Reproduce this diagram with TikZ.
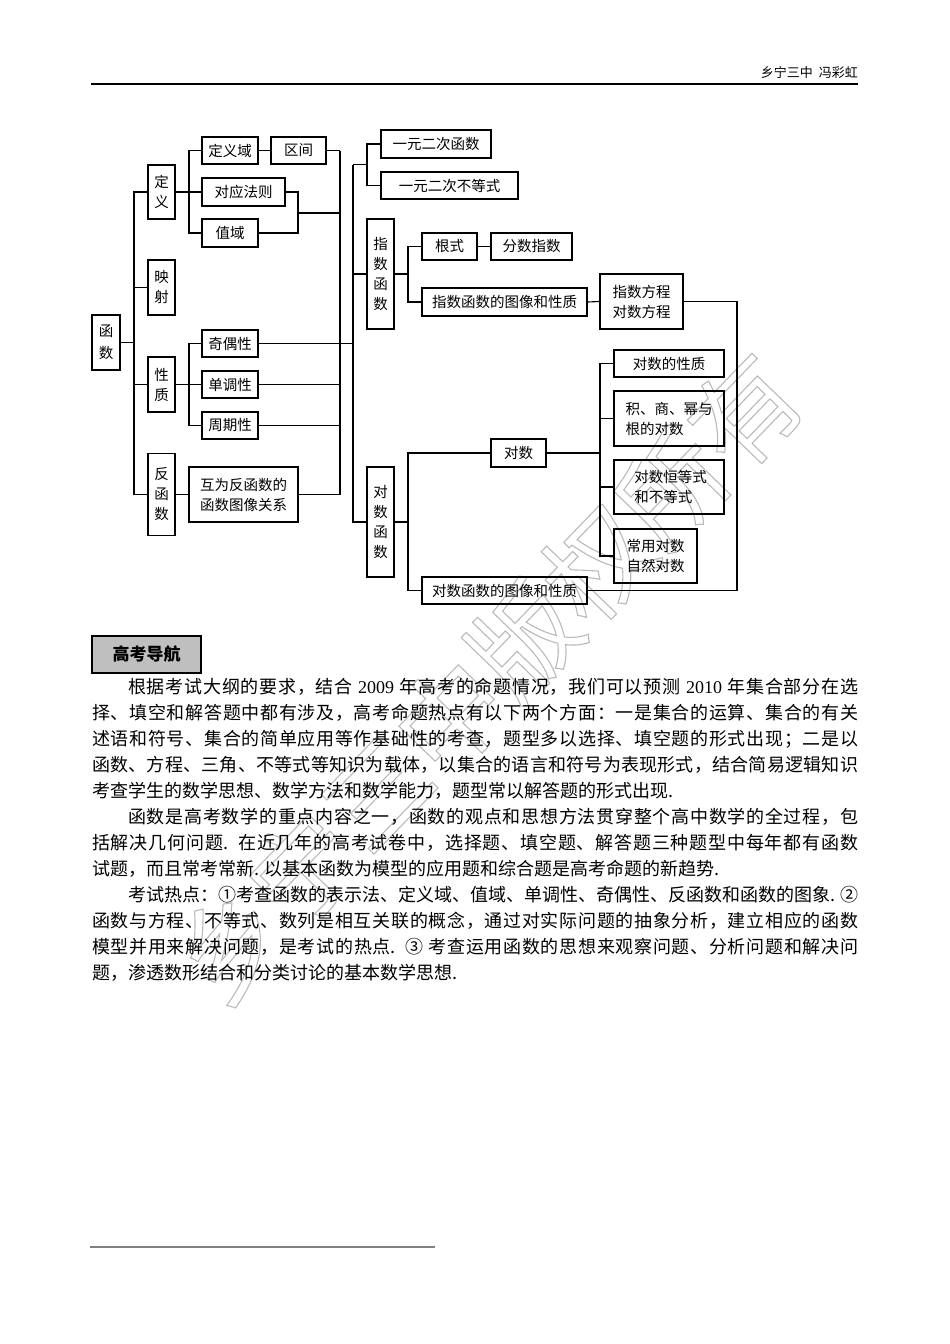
\documentclass[tikz,border=0pt]{standalone}
\usepackage{fontspec}
\setmainfont{Noto Sans CJK SC}
\newfontfamily\lat{Liberation Serif}
\newcount\mycc
\mycc="4E00
\loop \XeTeXcharclass\mycc=1 \advance\mycc by 1 \ifnum\mycc<"A000 \repeat
\XeTeXcharclass"FF0C=3 \XeTeXcharclass"3001=3 \XeTeXcharclass"FF1A=3 \XeTeXcharclass"FF1B=3
\XeTeXcharclass"2460=1 \XeTeXcharclass"2461=1 \XeTeXcharclass"2462=1
\XeTeXinterchartoks 1 1 = {\hskip 0pt plus 1pt}
\XeTeXinterchartoks 1 3 = {\hskip 0pt plus 1pt}
\XeTeXinterchartoks 3 1 = {\hskip 0pt plus 1pt}
\XeTeXinterchartoks 3 3 = {\hskip 0pt plus 1pt}
\newcommand\jl[2]{\makebox[#1][s]{\XeTeXinterchartokenstate=1 #2}}
\tikzset{
  bx/.style={draw, line width=1.1pt, inner sep=0pt, font=\fontsize{14.5}{20}\selectfont, align=center},
  ln/.style={line width=1.1pt},
  para/.style={anchor=west, inner sep=0pt, font=\fontsize{18}{26}\selectfont},
}
\begin{document}
\begin{tikzpicture}[x=1pt,y=-1pt]
\useasboundingbox (0,0) rectangle (950,1344);
% watermark
\node[rotate=46, inner sep=0pt, font=\fontsize{106}{106}\selectfont, text=black!27] (wm) at (487,678)
  {\special{pdf:literal direct 1 Tr 1.1 w}乡宁三中版权所有\special{pdf:literal direct 0 Tr}};
% header
\node[anchor=east, inner sep=0pt, font=\fontsize{13}{15}\selectfont] (hdr) at (858,73) {乡宁三中\ \ 冯彩虹};
\coordinate (hl) at (91,84); \coordinate (hr) at (858,84);
\draw[line width=1.5pt] (hl) -- (hr);
% spines
\coordinate (sp1) at (134,0); \coordinate (sp2) at (189,0); \coordinate (sp3) at (340,0);
\coordinate (sp4) at (353,0); \coordinate (sp5) at (367,0); \coordinate (sp6) at (408,0);
\coordinate (sp7) at (600,0);
% left nodes
\node[bx, minimum width=28, minimum height=55] (hs) at (106,342.5) {函\\[2pt]数};
\node[bx, minimum width=27, minimum height=54] (dy) at (161.5,192) {定\\义};
\node[bx, minimum width=27, minimum height=55] (ys) at (161.5,287.5) {映\\射};
\node[bx, minimum width=27, minimum height=55] (xz) at (161.5,384.5) {性\\质};
\node[bx, minimum width=27, minimum height=82] (fhs) at (161.5,494.5) {反\\函\\数};
\node[bx, minimum width=56, minimum height=27] (dyy) at (230,150.5) {定义域};
\node[bx, minimum width=55, minimum height=27] (qj) at (298.5,150.5) {区间};
\node[bx, minimum width=83, minimum height=28] (dyfz) at (243.5,192) {对应法则};
\node[bx, minimum width=56, minimum height=28] (zy) at (230,233) {值域};
\node[bx, minimum width=56, minimum height=27] (joi) at (230,343.5) {奇偶性};
\node[bx, minimum width=56, minimum height=27] (ddx) at (230,384.5) {单调性};
\node[bx, minimum width=56, minimum height=27] (zqx) at (230,425.5) {周期性};
\node[bx, minimum width=109, minimum height=55] (hw) at (243.5,494.5) {互为反函数的\\函数图像关系};
% right nodes
\node[bx, minimum width=110, minimum height=28] (ey1) at (436,144) {一元二次函数};
\node[bx, minimum width=137, minimum height=27] (ey2) at (449.5,185.5) {一元二次不等式};
\node[bx, minimum width=27, minimum height=110] (zs) at (380.5,274) {指\\数\\函\\数};
\node[bx, minimum width=55, minimum height=27] (gs) at (449.5,246.5) {根式};
\node[bx, minimum width=81, minimum height=27] (fszs) at (531.5,246.5) {分数指数};
\node[bx, minimum width=165, minimum height=28] (zxz) at (504.5,302) {指数函数的图像和性质};
\node[bx, minimum width=83, minimum height=55] (zfc) at (641.5,301.5) {指数方程\\对数方程};
\node[bx, minimum width=27, minimum height=110] (ds) at (380.5,522) {对\\数\\函\\数};
\node[bx, minimum width=55, minimum height=28] (dsb) at (518.5,453) {对数};
\node[bx, minimum width=165, minimum height=27] (dxz) at (504.5,590.5) {对数函数的图像和性质};
\node[bx, minimum width=110, minimum height=27] (dxz1) at (669,363.5) {对数的性质};
\node[bx, minimum width=110, minimum height=55, align=left] (jsm) at (669,418.5) {积、商、幂与\\根的对数};
\node[bx, minimum width=110, minimum height=54, align=left] (dhd) at (669,487) {\ 对数恒等式\\\ 和不等式};
\node[bx, minimum width=83, minimum height=54] (cyd) at (655.5,556) {常用对数\\自然对数};
% connectors left
\draw[ln] (hs.east) -- (hs.east -| sp1);
\draw[ln] (dy.west) -- (dy.west -| sp1) |- (fhs.west);
\draw[ln] (ys.west) -- (ys.west -| sp1);
\draw[ln] (xz.west) -- (xz.west -| sp1);
\draw[ln] (dyy.west) -- (dyy.west -| sp2) |- (zy.west);
\draw[ln] (dy.east) -- (dyfz.west);
\draw[ln] (dyy.east) -- (qj.east -| qj.west);
\draw[ln] (qj.east) -- (qj.east -| sp3);
\coordinate (jn) at (298,213);
\draw[ln] (dyfz.east) -| (jn) |- (zy.east);
\draw[ln] (jn) -- (jn -| sp3);
\draw[ln] (qj.east -| sp3) -- (hw.east -| sp3);
\draw[ln] (joi.west) -- (joi.west -| sp2) |- (zqx.west);
\draw[ln] (xz.east) -- (ddx.west);
\draw[ln] (fhs.east) -- (hw.west);
\draw[ln] (joi.east) -- (joi.east -| sp4);
\draw[ln] (ddx.east) -- (ddx.east -| sp3);
\draw[ln] (zqx.east) -- (zqx.east -| sp3);
\draw[ln] (hw.east) -- (hw.east -| sp3);
% connectors right
\coordinate (top4) at (353,164.5);
\draw[ln] (top4) |- (ds.west);
\draw[ln] (zs.west) -- (zs.west -| sp4);
\draw[ln] (top4) -- (top4 -| sp5);
\draw[ln] (ey1.west) -- (ey1.west -| sp5) |- (ey2.west);
\draw[ln] (gs.west) -- (gs.west -| sp6) |- (zxz.west);
\draw[ln] (zs.east) -- (zs.east -| sp6);
\draw[ln] (gs.east) -- (fszs.west);
\draw[ln] (zxz.east) -- (zfc.west);
\coordinate (rc) at (737,450);
\draw[ln] (zfc.east) -| (rc) |- (dxz.east);
\draw[ln] (dsb.west) -- (dsb.west -| sp6) |- (dxz.west);
\draw[ln] (ds.east) -- (ds.east -| sp6);
\draw[ln] (dxz1.west) -- (dxz1.west -| sp7) |- (cyd.west);
\draw[ln] (dsb.east) -- (dsb.east -| sp7);
\draw[ln] (jsm.west) -- (jsm.west -| sp7);
\draw[ln] (dhd.west) -- (dhd.west -| sp7);
% section title
\node[draw, line width=1.1pt, fill=black!25, minimum width=109, minimum height=37, inner sep=0pt,
  font=\fontsize{17}{20}\selectfont\bfseries] (gkdh) at (146.5,654.5) {高考导航};
% paragraphs
\node[para] (l1) at (128,687) {\jl{730pt}{根据考试大纲的要求，结合 {\lat 2009} 年高考的命题情况，我们可以预测 {\lat 2010} 年集合部分在选}};
\node[para] (l2) at (92,713) {\jl{766pt}{择、填空和解答题中都有涉及，高考命题热点有以下两个方面：一是集合的运算、集合的有关}};
\node[para] (l3) at (92,739) {\jl{766pt}{述语和符号、集合的简单应用等作基础性的考查，题型多以选择、填空题的形式出现；二是以}};
\node[para] (l4) at (92,765) {\jl{766pt}{函数、方程、三角、不等式等知识为载体，以集合的语言和符号为表现形式，结合简易逻辑知识}};
\node[para] (l5) at (92,791) {考查学生的数学思想、数学方法和数学能力，题型常以解答题的形式出现.};
\node[para] (l6) at (128,817) {\jl{730pt}{函数是高考数学的重点内容之一，函数的观点和思想方法贯穿整个高中数学的全过程，包}};
\node[para] (l7) at (92,843) {\jl{766pt}{括解决几何问题. 在近几年的高考试卷中，选择题、填空题、解答题三种题型中每年都有函数}};
\node[para] (l8) at (92,869) {试题，而且常考常新. 以基本函数为模型的应用题和综合题是高考命题的新趋势.};
\node[para] (l9) at (128,895) {\jl{730pt}{考试热点：①考查函数的表示法、定义域、值域、单调性、奇偶性、反函数和函数的图象. ②}};
\node[para] (l10) at (92,921) {\jl{766pt}{函数与方程、不等式、数列是相互关联的概念，通过对实际问题的抽象分析，建立相应的函数}};
\node[para] (l11) at (92,947) {\jl{766pt}{模型并用来解决问题，是考试的热点. ③ 考查运用函数的思想来观察问题、分析问题和解决问}};
\node[para] (l12) at (92,973) {题，渗透数形结合和分类讨论的基本数学思想.};
% footnote rule
\coordinate (fl) at (90,1247); \coordinate (fr) at (435,1247);
\draw[line width=1.2pt, black!50] (fl) -- (fr);
\end{tikzpicture}
\end{document}
